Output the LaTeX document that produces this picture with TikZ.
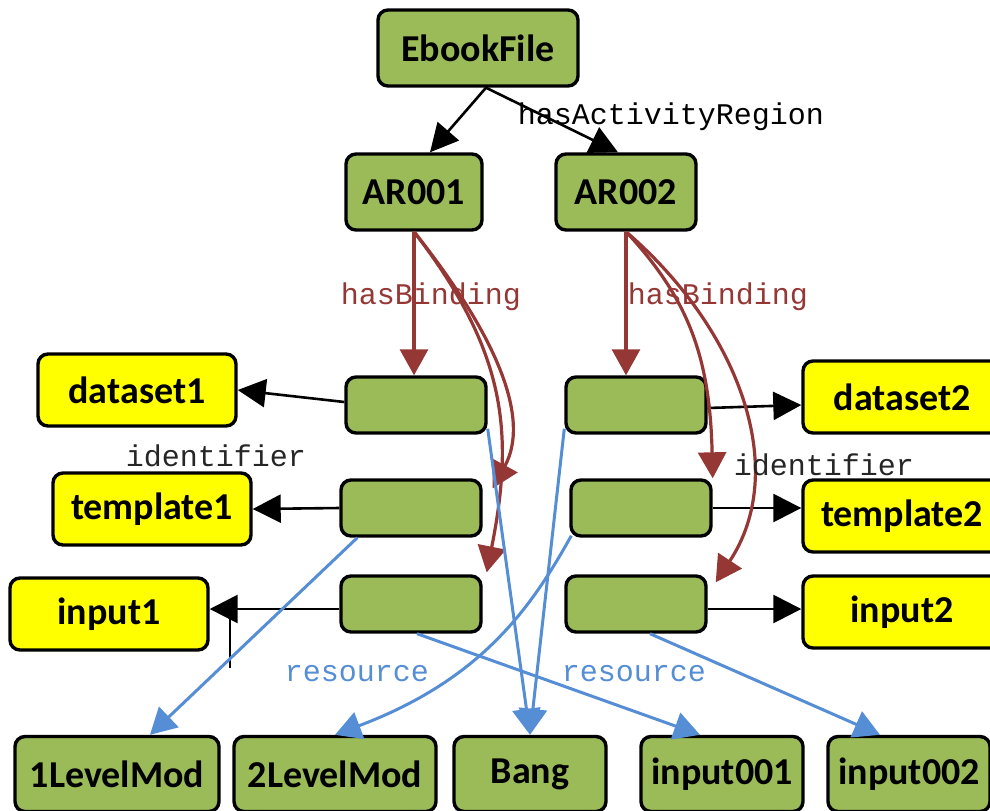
\documentclass[tikz,border=0pt]{standalone}
\usepackage{fontspec}
\setmainfont{Carlito}
\setmonofont{Liberation Mono}
\usetikzlibrary{arrows.meta,positioning}
\definecolor{leafgreen}{HTML}{9BBB59}
\definecolor{boxyellow}{HTML}{FFFF00}
\definecolor{bindred}{HTML}{953735}
\definecolor{resblue}{HTML}{558ED5}

\tikzset{%
  entity/.style={draw, line width=1.7pt, fill=leafgreen, rounded corners=5pt, inner sep=0pt, minimum height=38pt, font=\bfseries\fontsize{19}{22}\selectfont},
  binding/.style={entity, minimum width=70pt, minimum height=28pt},
  target/.style={entity, fill=boxyellow, minimum width=99pt, minimum height=36pt},
  leaf/.style={entity, minimum height=37.5pt},
  texto/.style={font=\ttfamily\fontsize{15}{17}\selectfont},
  line/.style={draw, line width=1.3pt, color=black, -{Triangle[length=14pt,width=14pt]}},
  bindline/.style={draw, line width=1.6pt, color=bindred, -{Triangle[length=13pt,width=14pt]}},
  resline/.style={draw, line width=1.5pt, color=resblue, -{Triangle[length=13pt,width=14pt]}},
}

\begin{document}
\begin{tikzpicture}[x=0.5pt, y=-0.5pt]
\useasboundingbox (0,0) rectangle (990,810);
\node[entity, minimum width=100pt] (ebook) at (478,48) {EbookFile};
\node[entity, minimum width=68pt] (ar1) at (414,192) {AR001};
\node[entity, minimum width=70pt] (ar2) at (626,192) {AR002};
\node[binding] (b1l) at (416,405) {};
\node[binding] (b2l) at (411,508) {};
\node[binding] (b3l) at (411,604) {};
\node[binding] (b1r) at (636,405) {};
\node[binding] (b2r) at (641,508) {};
\node[binding] (b3r) at (636,604) {};
\node[target] (ds1) at (137,390) {dataset1};
\node[target] (tp1) at (152,509) {template1};
\node[target] (in1) at (109,614) {input1};
\node[target] (ds2) at (902,397) {dataset2};
\node[target] (tp2) at (902,516) {template2};
\node[target] (in2) at (902,612) {input2};
\node[leaf, minimum width=102pt] (lm1) at (117,774) {1LevelMod};
\node[leaf, minimum width=101pt] (lm2) at (335,774) {2LevelMod};
\node[leaf, minimum width=76pt] (bang) at (530,774) {Bang};
\node[leaf, minimum width=81pt] (i001) at (722,774) {input001};
\node[leaf, minimum width=81pt] (i002) at (909,774) {input002};
\coordinate (tick) at (230,668);

\draw[line] ([xshift=4pt]ebook.south) -- ([xshift=8pt]ar1.north);
\draw[line] ([xshift=4pt]ebook.south) -- ([xshift=-4pt]ar2.north);
\draw[line] ([yshift=1.5pt]b1l.west) -- (ds1.east);
\draw[line] (b2l.west) -- (tp1.east);
\draw[line] ([yshift=-2.5pt]b3l.west) -- ([yshift=-2.5pt]b3l.west -| in1.east);
\draw[line width=0.6pt] (tick) -- ++(0,-50);
\draw[line] ([yshift=-1.5pt]b1r.east) -- ([yshift=-4pt]ds2.west);
\draw[line] (b2r.east) -- ([yshift=4pt]tp2.west);
\draw[line] ([yshift=-2.5pt]b3r.east) -- ([yshift=1.5pt]in2.west);

\draw[bindline] (ar1.south) -- (ar1.south |- b1l.north);
\draw[bindline] (ar1.south) .. controls (500,340) and (530,420) .. ([xshift=5pt,yshift=-5pt]b2l.north east);
\draw[bindline] (ar1.south) .. controls (505,350) and (515,430) .. ([xshift=2pt,yshift=1pt]b3l.north east);
\draw[bindline] (ar2.south) -- (ar2.south |- b1r.north);
\draw[bindline] (ar2.south) .. controls (690,300) and (710,360) .. (b2r.north east);
\draw[bindline] (ar2.south) .. controls (740,330) and (790,470) .. ([xshift=4pt,yshift=-4pt]b3r.north east);

\draw[resline] ([xshift=9pt]b2l.south west) -- ([xshift=16.5pt]lm1.north);
\draw[resline] ([xshift=1pt,yshift=1pt]b2r.south west) .. controls (530,610) and (480,680) .. (lm2.north);
\draw[resline] ([yshift=3pt]b1l.south east) -- (bang.north);
\draw[resline] ([yshift=3pt]b1r.south west) -- (bang.north);
\draw[resline] ([xshift=3pt]b3l.south) -- ([xshift=-11pt]i001.north);
\draw[resline] ([xshift=7pt]b3r.south) -- ([xshift=-14.5pt]i002.north);

\node[texto] (har) at (671,117) {hasActivityRegion};
\node[texto, text=bindred] (hb1) at (431,297) {hasBinding};
\node[texto, text=bindred] (hb2) at (718,297) {hasBinding};
\node[texto, text=black!85] (id1) at (216,456) {identifier};
\node[texto, text=black!85] (id2) at (824,465) {identifier};
\node[texto, text=resblue] (rs1) at (357,674) {resource};
\node[texto, text=resblue] (rs2) at (634,674) {resource};
\end{tikzpicture}
\end{document}
